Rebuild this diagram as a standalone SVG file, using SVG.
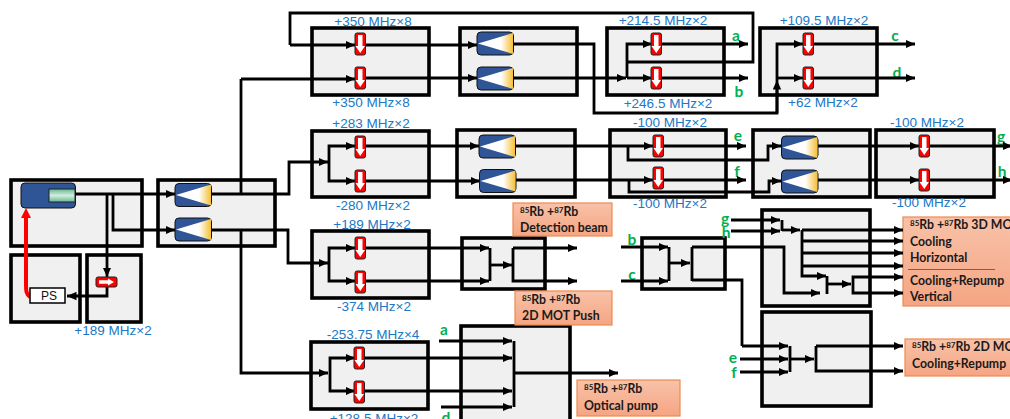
<svg xmlns="http://www.w3.org/2000/svg" xmlns:xlink="http://www.w3.org/1999/xlink" width="1010" height="419" viewBox="0 0 1010 419">
<style>
.box{fill:#f0f0f0;stroke:#000;stroke-width:3.600}
.c{fill:none;stroke:#000;stroke-width:2.800;stroke-linejoin:miter}
.a{marker-end:url(#arr)}
.f{font-family:"Liberation Sans",Arial,sans-serif;font-size:13.5px;fill:#2077c6;text-anchor:middle}
.g{font-family:Lato,"Liberation Sans",sans-serif;font-size:15.5px;font-weight:bold;fill:#00b050;text-anchor:middle}
.o{fill:url(#og);stroke:#ed8a50;stroke-width:1.200}
.t{font-family:Lato,"Liberation Sans",sans-serif;font-size:12.300px;font-weight:bold;fill:#1a1a1a}
.s{font-size:8px}
</style>
<defs>
<marker id="arr" markerUnits="userSpaceOnUse" markerWidth="10" markerHeight="9" refX="9.500" refY="4.500" orient="auto"><path d="M0,0.300 L9.500,4.500 L0,8.700z" fill="#000"/></marker>
<marker id="rarr" markerUnits="userSpaceOnUse" markerWidth="12" markerHeight="12" refX="5" refY="5" orient="auto"><path d="M0,0 L10,5 L0,10z" fill="#f00"/></marker>
<linearGradient id="og" x1="0" y1="0" x2="0" y2="1"><stop offset="0" stop-color="#f8c2a8"/><stop offset="1" stop-color="#f5a583"/></linearGradient>
<linearGradient id="tg" x1="0" y1="0" x2="1" y2="0"><stop offset="0.65" stop-color="#fff"/><stop offset="1" stop-color="#f5bf35"/></linearGradient>
<linearGradient id="lg" x1="0" y1="0" x2="0" y2="1"><stop offset="0" stop-color="#5fb98f"/><stop offset="0.5" stop-color="#d4ece0"/><stop offset="1" stop-color="#5fb98f"/></linearGradient>
<g id="mod"><rect x="0" y="0" width="36.500" height="23" rx="4" fill="#2f5597" stroke="#111" stroke-width="1"/><path d="M1,11.500 L36,1 V22z" fill="url(#tg)"/></g>
<g id="aom"><rect x="0" y="0" width="10.500" height="22" rx="2" fill="#f00" stroke="#222" stroke-width="1"/><path d="M3,2 H7.500 V13 H10 L5.250,20 L0.500,13 H3z" fill="#fff"/></g>
</defs>

<g id="n-laser"><rect class="box" x="11" y="180" width="131" height="66"/><rect x="21" y="183" width="54.500" height="25" rx="4" fill="#2f5597" stroke="#111" stroke-width="1"/><rect x="49" y="189" width="26" height="13" fill="url(#lg)" stroke="#222" stroke-width="1"/></g>
<g id="n-split"><rect class="box" x="158" y="180" width="117" height="66"/></g>
<g id="n-psbox"><rect class="box" x="11" y="255" width="69" height="67"/></g>
<g id="n-vco"><rect class="box" x="87" y="255" width="54" height="67"/><text class="f" x="113" y="335">+189 MHz×2</text></g>
<g id="n-r1a"><rect class="box" x="312" y="28" width="117" height="67"/><text class="f" x="373" y="26">+350 MHz×8</text><text class="f" x="371" y="107">+350 MHz×8</text></g>
<g id="n-r1b"><rect class="box" x="460" y="28" width="117" height="67"/></g>
<g id="n-r1c"><rect class="box" x="607" y="28" width="117" height="67"/><text class="f" x="663" y="25">+214.5 MHz×2</text><text class="f" x="668" y="108">+246.5 MHz×2</text><text class="g" x="736" y="41">a</text><text class="g" x="739" y="97">b</text></g>
<g id="n-r1d"><rect class="box" x="760" y="28" width="117" height="67"/><text class="f" x="824" y="25">+109.5 MHz×2</text><text class="f" x="823" y="107">+62 MHz×2</text><text class="g" x="895" y="41">c</text><text class="g" x="897" y="78">d</text></g>
<g id="n-r2a"><rect class="box" x="312" y="131" width="117" height="66"/><text class="f" x="371" y="128">+283 MHz×2</text><text class="f" x="373" y="210">-280 MHz×2</text></g>
<g id="n-r2b"><rect class="box" x="457" y="130" width="118" height="67"/></g>
<g id="n-r2c"><rect class="box" x="610" y="130" width="116" height="67"/><text class="f" x="670" y="127">-100 MHz×2</text><text class="f" x="670" y="208">-100 MHz×2</text><text class="g" x="738" y="141">e</text><text class="g" x="737" y="177">f</text></g>
<g id="n-r2d"><rect class="box" x="753" y="130" width="117" height="67"/></g>
<g id="n-r2e"><rect class="box" x="876" y="130" width="118" height="67"/><text class="f" x="927" y="127">-100 MHz×2</text><text class="f" x="929" y="207">-100 MHz×2</text><text class="g" x="1001" y="142">g</text><text class="g" x="1002" y="177">h</text></g>
<g id="n-r3a"><rect class="box" x="312" y="231" width="117" height="67"/><text class="f" x="372" y="229">+189 MHz×2</text><text class="f" x="374" y="311">-374 MHz×2</text></g>
<g id="n-r3b"><rect class="box" x="462" y="238" width="83" height="51"/></g>
<g id="n-r3c"><rect class="box" x="642" y="238" width="83" height="51"/><text class="g" x="632" y="245">b</text><text class="g" x="632" y="280">c</text></g>
<g id="n-r4a"><rect class="box" x="311" y="342" width="117" height="67"/><text class="f" x="373" y="339">-253.75 MHz×4</text><text class="f" x="374" y="423">+128.5 MHz×2</text></g>
<g id="n-r4b"><rect class="box" x="461" y="326" width="109" height="100"/><text class="g" x="444" y="335">a</text><text class="g" x="446" y="423">d</text></g>
<g id="n-mot3"><rect class="box" x="762" y="210" width="108" height="96"/><text class="g" x="725" y="224">g</text><text class="g" x="726" y="238">h</text></g>
<g id="n-mot2"><rect class="box" x="762" y="312" width="109" height="94"/><text class="g" x="733" y="363">e</text><text class="g" x="734" y="378">f</text></g>

<g id="n-det"><rect class="o" x="513" y="203" width="99" height="33"/><text class="t" x="520" y="216"><tspan class="s" dy="-3">85</tspan><tspan dy="3">Rb +</tspan><tspan class="s" dy="-3">87</tspan><tspan dy="3">Rb</tspan></text><text class="t" x="520" y="232">Detection beam</text></g>
<g id="n-push"><rect class="o" x="515" y="291" width="97" height="34"/><text class="t" x="522" y="304"><tspan class="s" dy="-3">85</tspan><tspan dy="3">Rb +</tspan><tspan class="s" dy="-3">87</tspan><tspan dy="3">Rb</tspan></text><text class="t" x="522" y="320">2D MOT Push</text></g>
<g id="n-pump"><rect class="o" x="577" y="380" width="103" height="36"/><text class="t" x="584" y="393"><tspan class="s" dy="-3">85</tspan><tspan dy="3">Rb +</tspan><tspan class="s" dy="-3">87</tspan><tspan dy="3">Rb</tspan></text><text class="t" x="584" y="410">Optical pump</text></g>
<g id="n-o3d"><rect class="o" x="903" y="217" width="120" height="89"/><text class="t" x="910" y="229"><tspan class="s" dy="-3">85</tspan><tspan dy="3">Rb +</tspan><tspan class="s" dy="-3">87</tspan><tspan dy="3">Rb 3D MOT</tspan></text><text class="t" x="910" y="246">Cooling</text><text class="t" x="910" y="262">Horizontal</text><path d="M908,269.500H995" stroke="#8a5a44" stroke-width="1" fill="none"/><text class="t" x="910" y="285">Cooling+Repump</text><text class="t" x="910" y="301">Vertical</text></g>
<g id="n-o2d"><rect class="o" x="905" y="339" width="120" height="37"/><text class="t" x="912" y="351"><tspan class="s" dy="-3">85</tspan><tspan dy="3">Rb +</tspan><tspan class="s" dy="-3">87</tspan><tspan dy="3">Rb 2D MOT</tspan></text><text class="t" x="912" y="368">Cooling+Repump</text></g>

<g id="connectors">
<path class="c a" d="M75,194H175"/><path class="c a" d="M107,194V277"/><path class="c a" d="M113,194V230H175"/>
<path class="c a" d="M107,287V296H67"/>
<path d="M30,297C26,294 26,290 26,285V213" fill="none" stroke="#f00" stroke-width="4" marker-end="url(#rarr)"/>
<path class="c a" d="M212,194H289V162H328"/><path class="c" d="M241,194V79"/><path class="c a" d="M241,79H355"/>
<path class="c a" d="M212,230H288V263H328"/><path class="c a" d="M241,230V373H328"/>
<path class="c" d="M627,62H753V13H290V45"/><path class="c a" d="M290,45H355"/>
<path class="c a" d="M365,45H477"/><path class="c a" d="M365,78H477"/>
<path class="c" d="M513,44H594V113H777V85"/><path class="c a" d="M777,113V80"/>
<path class="c a" d="M513,78H626"/><path class="c a" d="M627,78H652"/><path class="c a" d="M627,78V44H652"/>
<path class="c a" d="M661,44H748"/><path class="c a" d="M661,78H748"/>
<path class="c a" d="M777,80V44H803"/><path class="c a" d="M777,78H803"/>
<path class="c a" d="M813,44H915"/><path class="c a" d="M813,78H915"/>
<path class="c a" d="M329,162V146H355"/><path class="c a" d="M329,162V181H355"/>
<path class="c a" d="M365,146H479"/><path class="c a" d="M365,181H480"/>
<path class="c a" d="M515,146H653"/><path class="c a" d="M516,180H653"/>
<path class="c a" d="M663,146H746"/><path class="c a" d="M663,180H746"/>
<path class="c a" d="M628,146V160H768V146H781"/><path class="c a" d="M629,180V192H769V181H781"/>
<path class="c a" d="M818,146H919"/><path class="c a" d="M818,180H919"/>
<path class="c a" d="M929,146H1012"/><path class="c a" d="M929,180H1012"/>
<path class="c a" d="M329,263V248H355"/><path class="c a" d="M329,263V281H355"/>
<path class="c a" d="M365,248H489"/><path class="c a" d="M365,281H489"/>
<path class="c" d="M490,248V281"/><path class="c a" d="M490,265H512"/>
<path class="c a" d="M513,248H577"/><path class="c a" d="M513,248V281H577"/>
<path class="c a" d="M330,373V358H355"/><path class="c a" d="M330,373V391H355"/>
<path class="c a" d="M439,341H512"/><path class="c a" d="M364,358H512"/><path class="c a" d="M364,391H512"/><path class="c a" d="M441,407H512"/>
<path class="c" d="M514,341V407"/><path class="c a" d="M515,373H618"/>
<path class="c a" d="M621,247H668"/><path class="c a" d="M621,281H668"/><path class="c" d="M669,247V281"/><path class="c a" d="M669,263H690"/>
<path class="c" d="M692,247V281"/><path class="c a" d="M692,247H784V293H820"/><path class="c" d="M692,280H742V346"/><path class="c a" d="M742,346H788"/>
<path class="c a" d="M740,359H788"/><path class="c a" d="M740,372H788"/><path class="c" d="M790,346V372"/><path class="c a" d="M790,359H814"/>
<path class="c a" d="M816,346H903"/><path class="c a" d="M816,346V371H903"/>
<path class="c a" d="M731,220H780"/><path class="c a" d="M731,231H780"/><path class="c" d="M782,220V231"/><path class="c a" d="M782,230H800"/>
<path class="c a" d="M802,230H903"/><path class="c a" d="M802,241H903"/><path class="c a" d="M802,253H903"/><path class="c a" d="M802,266H903"/>
<path class="c a" d="M802,230V276H826"/><path class="c" d="M827,276V294"/><path class="c a" d="M827,284H851"/>
<path class="c a" d="M853,284V277H903"/><path class="c a" d="M853,284V293H903"/>
</g>

<g id="n-mods">
<use xlink:href="#mod" href="#mod" x="175" y="183.500"/><use xlink:href="#mod" href="#mod" x="175" y="218"/>
<use xlink:href="#mod" href="#mod" x="477" y="32"/><use xlink:href="#mod" href="#mod" x="477" y="67"/>
<use xlink:href="#mod" href="#mod" x="479" y="135"/><use xlink:href="#mod" href="#mod" x="479.500" y="169.500"/>
<use xlink:href="#mod" href="#mod" x="781.500" y="136"/><use xlink:href="#mod" href="#mod" x="781.500" y="170"/>
</g>
<g id="n-aoms">
<use href="#aom" x="355" y="33"/><use href="#aom" x="355" y="67"/>
<use href="#aom" x="651" y="33"/><use href="#aom" x="651" y="67"/>
<use href="#aom" x="803" y="33"/><use href="#aom" x="803" y="67"/>
<use href="#aom" x="355" y="136"/><use href="#aom" x="355" y="170"/>
<use href="#aom" x="653" y="135"/><use href="#aom" x="653" y="167"/>
<use href="#aom" x="919" y="135"/><use href="#aom" x="919" y="169"/>
<use href="#aom" x="355" y="237"/><use href="#aom" x="355" y="271"/>
<use href="#aom" x="354" y="347"/><use href="#aom" x="354" y="381"/>
</g>
<g id="n-vcoaom"><rect x="96" y="277" width="21" height="10" rx="2" fill="#f00" stroke="#222" stroke-width="1"/><path d="M99,280.300H108V278.500L114,282L108,285.500V283.700H99z" fill="#fff"/></g>
<g id="n-ps"><rect x="30" y="288" width="35" height="15" fill="#fff" stroke="#000" stroke-width="1.500"/><text x="49" y="300" font-family="Liberation Sans,sans-serif" font-size="12" fill="#111" text-anchor="middle">PS</text></g>
</svg>
